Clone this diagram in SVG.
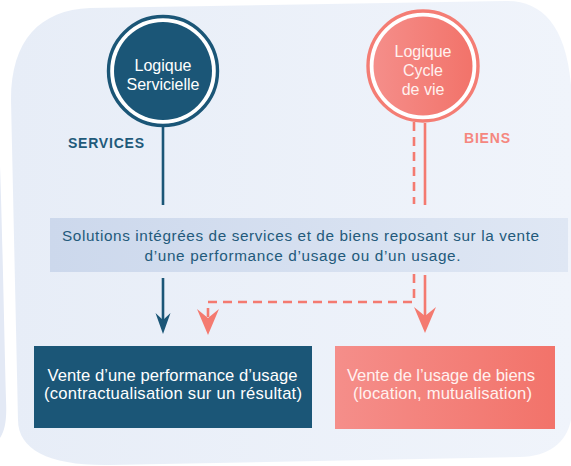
<svg xmlns="http://www.w3.org/2000/svg" width="571" height="466" viewBox="0 0 571 466">
<defs>
<linearGradient id="bg" x1="0" y1="0" x2="1" y2="0">
<stop offset="0" stop-color="#e7edf7"/>
<stop offset="1" stop-color="#f0f4fb"/>
</linearGradient>
<linearGradient id="boxg" x1="0" y1="0" x2="1" y2="0">
<stop offset="0" stop-color="#ccd8ec"/>
<stop offset="1" stop-color="#dfe7f4"/>
</linearGradient>
<linearGradient id="pink" x1="0" y1="0" x2="1" y2="0">
<stop offset="0" stop-color="#f58e8a"/>
<stop offset="1" stop-color="#f2736a"/>
</linearGradient>
<marker id="headBlue" markerUnits="userSpaceOnUse" markerWidth="22" markerHeight="16" viewBox="0 0 22 16" refX="7" refY="7.5" orient="auto" overflow="visible">
<path d="M0,0 L21,7.5 L0,15 L7,7.5 Z" fill="#1b5677"/>
</marker>
<marker id="headPink" markerUnits="userSpaceOnUse" markerWidth="27" markerHeight="23" viewBox="0 0 27 23" refX="9" refY="11" orient="auto" overflow="visible">
<path d="M0,0 L26,11 L0,22 L9,11 Z" fill="#f47a70"/>
</marker>
</defs>
<style>
.t{font-family:"Liberation Sans",Arial,sans-serif}
.blue{stroke:#1b5677;stroke-width:2.6;fill:none}
.pk{stroke:#f47a70;stroke-width:2.6;fill:none}
.dash{stroke-dasharray:9 6}
.wt{fill:#ffffff;font-size:16px;text-anchor:middle}
.pt{fill:#fff1ef;font-size:16px;text-anchor:middle}
.bt{font-size:16.6px}
</style>
<rect width="571" height="466" fill="#ffffff"/>
<g id="background">
<path d="M0,166 C2,220 4,320 6,400 C7,420 5,430 0,438 Z" fill="#e3e9f5"/>
<path d="M11,100 C11,40 40,10 90,8 L505,1 C545,0 572,30 572,110 L572,412 C570,440 552,456 520,457 L110,465 C50,466 18,450 18,420 Z" fill="url(#bg)"/>
</g>
<g id="connectors">
<path class="blue" d="M163,127 L163,205"/>
<path class="pk" d="M425,123 L425,205"/>
<path class="pk dash" d="M414,122 L414,204"/>
<path class="blue" d="M163,278 L163,320" marker-end="url(#headBlue)"/>
<path class="pk" d="M425,275 L425,316" marker-end="url(#headPink)"/>
<path class="pk dash" d="M414,274 L414,302 L208,302 L208,318" marker-end="url(#headPink)"/>
</g>
<g id="node-servicielle">
<circle cx="163" cy="71" r="54.5" fill="#ffffff" stroke="#1b5677" stroke-width="3.4"/>
<circle cx="163" cy="71" r="49" fill="#1b5677"/>
<text class="t wt" x="163" y="71">Logique</text>
<text class="t wt" x="163" y="89.5">Servicielle</text>
</g>
<g id="node-cyclevie">
<circle cx="423" cy="66" r="55" fill="#ffffff" stroke="#f47d74" stroke-width="3.4"/>
<circle cx="423" cy="66" r="49.5" fill="url(#pink)"/>
<text class="t pt" x="423" y="57">Logique</text>
<text class="t pt" x="423" y="76">Cycle</text>
<text class="t pt" x="423" y="94.5">de vie</text>
</g>
<g id="label-services">
<text class="t" x="106" y="148" font-size="14" font-weight="bold" fill="#1f5a7a" text-anchor="middle" textLength="76">SERVICES</text>
</g>
<g id="label-biens">
<text class="t" x="487" y="143" font-size="14" font-weight="bold" fill="#f5877f" text-anchor="middle" textLength="46">BIENS</text>
</g>
<g id="node-solutions">
<rect x="50" y="218" width="518" height="54" fill="url(#boxg)"/>
<text class="t" x="300.5" y="241" font-size="15.3" fill="#235a7b" text-anchor="middle" textLength="477">Solutions intégrées de services et de biens reposant sur la vente</text>
<text class="t" x="302.5" y="260.5" font-size="15.3" fill="#235a7b" text-anchor="middle" textLength="316">d’une performance d’usage ou d’un usage.</text>
</g>
<g id="node-performance">
<rect x="34" y="346" width="278" height="82" fill="#1b5677"/>
<text class="t wt bt" x="172.5" y="380.5" textLength="250">Vente d’une performance d’usage</text>
<text class="t wt bt" x="173" y="398.5" textLength="258">(contractualisation sur un résultat)</text>
</g>
<g id="node-usage">
<rect x="335" y="346" width="220" height="83" fill="url(#pink)"/>
<text class="t pt bt" x="441" y="380.5" textLength="188">Vente de l’usage de biens</text>
<text class="t pt bt" x="442.5" y="398.5" textLength="179">(location, mutualisation)</text>
</g>
</svg>
